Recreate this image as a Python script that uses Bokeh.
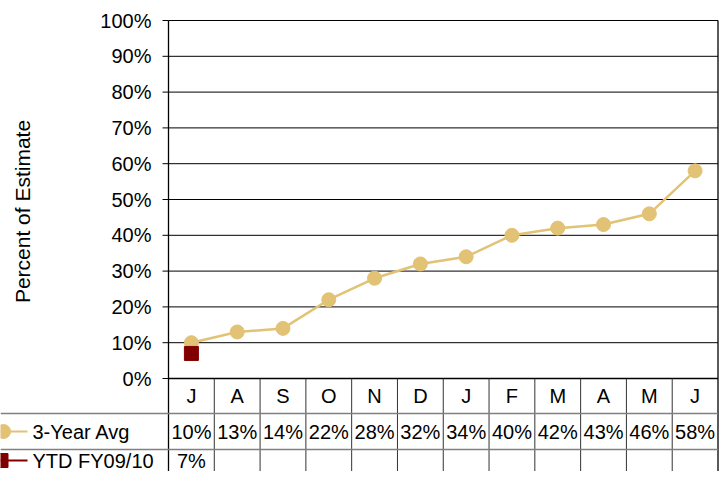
import numpy as np
from bokeh.plotting import figure
from bokeh.models import Range1d
from bokeh.core.properties import value
from bokeh.embed import file_html
from bokeh.resources import INLINE

# ---- data ----
months = ["J", "A", "S", "O", "N", "D", "J", "F", "M", "A", "M", "J"]
avg_3yr = [10, 13, 14, 22, 28, 32, 34, 40, 42, 43, 46, 58]
ytd_fy0910 = [7]
y_ticks = [0, 10, 20, 30, 40, 50, 60, 70, 80, 90, 100]
y_tick_labels = [f"{t}%" for t in y_ticks]
series_names = ["3-Year Avg", "YTD FY09/10"]
y_title = "Percent of Estimate"

# ---- layout (picture pixels -> data units) ----
W, H = 720, 471
PL, PR, PT, PB = 168.0, 717.5, 20.0, 378.0
n = len(months)
sx = (PR - PL) / n
sy = (PB - PT) / 100.0


def dx(ix):
    return (ix - PL) / sx


def dy(iy):
    return (PB - iy) / sy


GOLD = "#E2C274"
RED = "#800000"
FONT = value("Liberation Sans")
FS = value("20px")
ROW1, ROW2, ROW3 = 395.0, 431.0, 460.0

p = figure(width=W, height=H, output_backend="svg", toolbar_location=None,
           x_range=Range1d(dx(0), dx(W)), y_range=Range1d(dy(H), dy(0)),
           min_border=0, x_axis_type=None, y_axis_type=None)
p.outline_line_color = None
p.background_fill_color = "white"
p.border_fill_color = "white"

bottom = dy(H + 5)

# gridlines
gy = y_ticks[1:]
p.segment(x0=[0] * len(gy), x1=[n] * len(gy), y0=gy, y1=gy, line_color="#000000", line_width=1)
# zero line
p.segment(x0=[0], x1=[n], y0=[0], y1=[0], line_color="#000000", line_width=1.3)
# tick marks
p.segment(x0=[dx(162)] * len(y_ticks), x1=[0] * len(y_ticks), y0=y_ticks, y1=y_ticks,
          line_color="#000000", line_width=1)
# tick labels
p.text(x=[dx(151)] * len(y_ticks), y=y_ticks, text=y_tick_labels, text_font=FONT,
       text_font_size=FS, text_align="right", text_baseline="middle", text_color="black")
# y title
p.text(x=[dx(22)], y=[dy(211)], text=[y_title], angle=np.pi / 2, text_font=FONT,
       text_font_size=value("21px"), text_align="center", text_baseline="middle",
       text_color="black")

# plot borders (left and right), extending into the table
p.segment(x0=[0, n], x1=[0, n], y0=[100, 100], y1=[bottom, bottom],
          line_color="#000000", line_width=1.3)
# table vertical lines
kx = list(range(1, n))
p.segment(x0=kx, x1=kx, y0=[0] * len(kx), y1=[bottom] * len(kx),
          line_color="#333333", line_width=1)
# table horizontal lines
hy = [dy(413), dy(449)]
p.segment(x0=[dx(0)] * 2, x1=[n] * 2, y0=hy, y1=hy, line_color="#808080", line_width=1.6)

xc = [i + 0.5 for i in range(n)]
# category labels
p.text(x=xc, y=[dy(ROW1)] * n, text=months, text_font=FONT, text_font_size=FS,
       text_align="center", text_baseline="middle", text_color="black")
# values row
p.text(x=xc, y=[dy(ROW2)] * n, text=[f"{v}%" for v in avg_3yr], text_font=FONT,
       text_font_size=FS, text_align="center", text_baseline="middle", text_color="black")
p.text(x=xc[:len(ytd_fy0910)], y=[dy(ROW3)] * len(ytd_fy0910),
       text=[f"{v}%" for v in ytd_fy0910], text_font=FONT, text_font_size=FS,
       text_align="center", text_baseline="middle", text_color="black")

# legend keys in the table
p.segment(x0=[dx(0)], x1=[dx(27)], y0=[dy(ROW2)], y1=[dy(ROW2)], line_color=GOLD, line_width=2.2)
p.scatter(x=[dx(3)], y=[dy(ROW2)], size=14, marker="circle", fill_color=GOLD, line_color=GOLD)
p.segment(x0=[dx(0)], x1=[dx(27)], y0=[dy(ROW3)], y1=[dy(ROW3)], line_color=RED, line_width=2.2)
p.scatter(x=[dx(0.5)], y=[dy(ROW3)], size=14, marker="square", fill_color=RED, line_color=RED)
p.text(x=[dx(32)] * 2, y=[dy(ROW2), dy(ROW3)], text=series_names, text_font=FONT,
       text_font_size=FS, text_align="left", text_baseline="middle", text_color="black")

# series
p.line(x=xc, y=avg_3yr, line_color=GOLD, line_width=2.5)
p.scatter(x=xc, y=avg_3yr, size=14, marker="circle", fill_color=GOLD, line_color=GOLD)
p.scatter(x=xc[:len(ytd_fy0910)], y=ytd_fy0910, size=14, marker="square",
          fill_color=RED, line_color=RED)

open("out.html", "w").write(file_html(p, INLINE))
